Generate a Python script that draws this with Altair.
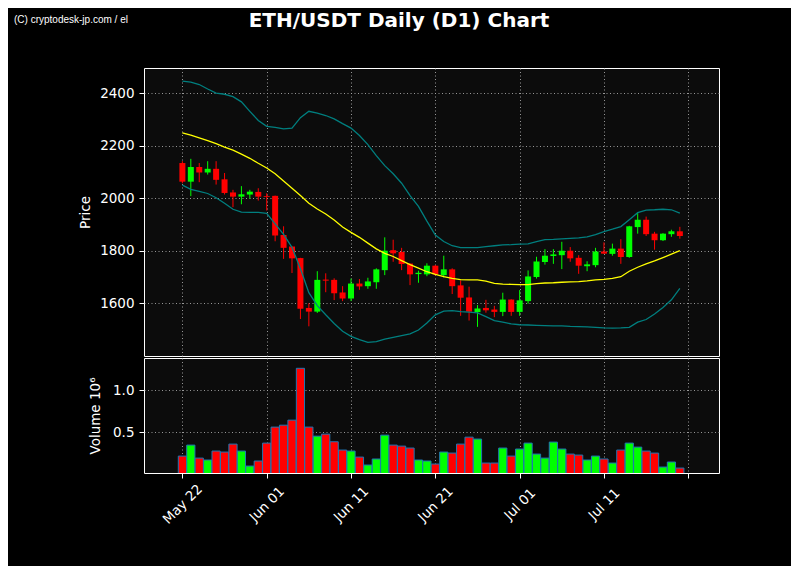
import altair as alt
import pandas as pd

# ---- data ----
start_date = "2023-05-22"
n_days = 60

opens = [2134, 2063, 2119, 2098, 2112, 2072, 2022, 2006, 2014, 2024,
         2008, 2009, 1860, 1816, 1772, 1582, 1568, 1690, 1689, 1641,
         1618, 1675, 1665, 1680, 1726, 1802, 1795, 1751, 1711, 1710,
         1743, 1707, 1729, 1668, 1622, 1566, 1582, 1576, 1567, 1614,
         1567, 1608, 1700, 1757, 1780, 1783, 1800, 1773, 1741, 1745,
         1797, 1788, 1808, 1776, 1890, 1918, 1865, 1840, 1863, 1874]
highs = [2141, 2150, 2134, 2141, 2141, 2096, 2032, 2046, 2032, 2038,
         2019, 2010, 1893, 1816, 1773, 1600, 1722, 1714, 1695, 1665,
         1694, 1692, 1697, 1733, 1851, 1842, 1811, 1752, 1724, 1752,
         1745, 1781, 1733, 1687, 1663, 1593, 1613, 1590, 1640, 1615,
         1650, 1725, 1777, 1806, 1806, 1834, 1814, 1783, 1760, 1811,
         1832, 1827, 1844, 1895, 1947, 1930, 1872, 1867, 1880, 1891]
lows = [2057, 2008, 2061, 2090, 2052, 2014, 1966, 1977, 1998, 1991,
        1953, 1836, 1769, 1715, 1540, 1512, 1563, 1642, 1612, 1608,
        1608, 1651, 1655, 1655, 1707, 1758, 1726, 1669, 1678, 1703,
        1705, 1698, 1635, 1552, 1534, 1510, 1564, 1547, 1551, 1552,
        1552, 1598, 1694, 1747, 1750, 1730, 1758, 1712, 1722, 1737,
        1788, 1781, 1750, 1773, 1865, 1856, 1804, 1837, 1853, 1846]
closes = [2063, 2119, 2098, 2112, 2070, 2020, 2006, 2015, 2025, 2006,
          2005, 1858, 1811, 1771, 1579, 1568, 1689, 1686, 1638, 1618,
          1675, 1664, 1683, 1729, 1800, 1790, 1749, 1710, 1716, 1743,
          1710, 1729, 1665, 1621, 1568, 1580, 1573, 1567, 1614, 1567,
          1611, 1702, 1759, 1781, 1786, 1800, 1771, 1743, 1748, 1797,
          1789, 1808, 1776, 1893, 1918, 1863, 1840, 1865, 1874, 1856]
volumes = [0.214, 0.345, 0.19, 0.167, 0.274, 0.262, 0.357, 0.274, 0.095, 0.155,
           0.369, 0.56, 0.583, 0.643, 1.262, 0.56, 0.452, 0.476, 0.385, 0.286,
           0.274, 0.202, 0.107, 0.179, 0.464, 0.345, 0.333, 0.31, 0.167, 0.155,
           0.119, 0.262, 0.25, 0.357, 0.44, 0.417, 0.131, 0.131, 0.31, 0.214,
           0.298, 0.369, 0.238, 0.19, 0.381, 0.298, 0.238, 0.226, 0.167, 0.214,
           0.179, 0.131, 0.286, 0.369, 0.321, 0.274, 0.25, 0.083, 0.143, 0.071]
upper_band = [2446, 2442, 2433, 2416, 2400, 2396, 2387, 2367, 2331, 2296,
              2274, 2270, 2264, 2267, 2307, 2331, 2324, 2315, 2302, 2284,
              2267, 2239, 2204, 2162, 2124, 2093, 2057, 2010, 1969, 1913,
              1860, 1835, 1819, 1812, 1812, 1812, 1816, 1819, 1822, 1823,
              1825, 1826, 1835, 1842, 1843, 1845, 1847, 1849, 1853, 1861,
              1873, 1882, 1892, 1918, 1945, 1955, 1956, 1958, 1956, 1943]
ma_line = [2249, 2240, 2230, 2219, 2208, 2195, 2183, 2168, 2152, 2133,
           2115, 2093, 2066, 2038, 2010, 1981, 1959, 1940, 1917, 1890,
           1870, 1851, 1829, 1807, 1790, 1778, 1762, 1747, 1734, 1720,
           1710, 1701, 1695, 1690, 1689, 1689, 1684, 1676, 1673, 1672,
           1671, 1671, 1675, 1677, 1678, 1680, 1681, 1682, 1685, 1689,
           1691, 1695, 1701, 1722, 1737, 1750, 1761, 1774, 1787, 1800]
lower_band = [2050, 2034, 2026, 2018, 2002, 1981, 1958, 1947, 1946, 1946,
              1942, 1902, 1862, 1813, 1731, 1640, 1591, 1556, 1523, 1493,
              1474, 1461, 1451, 1454, 1463, 1470, 1477, 1483, 1498, 1525,
              1556, 1570, 1572, 1568, 1566, 1563, 1549, 1534, 1528, 1521,
              1518, 1517, 1516, 1515, 1514, 1514, 1512, 1511, 1510, 1508,
              1506, 1505, 1506, 1508, 1528, 1538, 1559, 1584, 1613, 1657]

tick_dates = ["2023-05-22", "2023-06-01", "2023-06-11", "2023-06-21",
              "2023-07-01", "2023-07-11", "2023-07-21"]
price_ticks = [1600, 1800, 2000, 2200, 2400]
volume_ticks = [0.5, 1.0]
title_text = "ETH/USDT Daily (D1) Chart"
credit_text = "(C) cryptodesk-jp.com / el"

# ---- table ----
dates = pd.date_range(start_date, periods=n_days, freq="D").strftime("%Y-%m-%d")
df = pd.DataFrame({
    "date": dates, "open": opens, "high": highs, "low": lows, "close": closes,
    "volume": volumes, "upper": upper_band, "ma": ma_line, "lower": lower_band,
})

DAY = 86400000
base_ms = pd.Timestamp(start_date, tz="UTC").value // 10**6
x_domain = [base_ms - 3.96 * DAY, base_ms + 63.05 * DAY]
tick_ms = [pd.Timestamp(d, tz="UTC").value // 10**6 for d in tick_dates]

FONT = "DejaVu Sans"
x_scale = alt.Scale(type="utc", domain=x_domain)
up_color = alt.condition("datum.close >= datum.open", alt.value("#00ff00"), alt.value("#ff0000"))

x_top = alt.X("date:T", scale=x_scale,
              axis=alt.Axis(values=tick_ms, labels=False, ticks=False, domain=False,
                            title=None, orient="top"))
y_axis = alt.Axis(values=price_ticks, format="d", title="Price", titlePadding=7)
y_scale = alt.Scale(domain=[1399, 2496], zero=False, nice=False)

base = alt.Chart(df)
wicks = base.mark_rule(strokeWidth=1).encode(
    x=x_top,
    y=alt.Y("low:Q", scale=y_scale, axis=y_axis),
    y2="high:Q",
    color=up_color,
)
bodies = base.mark_bar(size=6).encode(
    x=x_top,
    y=alt.Y("open:Q", scale=y_scale, axis=y_axis),
    y2="close:Q",
    color=up_color,
)
upper_l = base.mark_line(color="#007f7f", strokeWidth=1.3).encode(
    x=x_top, y=alt.Y("upper:Q", scale=y_scale, axis=y_axis))
lower_l = base.mark_line(color="#007f7f", strokeWidth=1.3).encode(
    x=x_top, y=alt.Y("lower:Q", scale=y_scale, axis=y_axis))
ma_l = base.mark_line(color="#ffff00", strokeWidth=1.3).encode(
    x=x_top, y=alt.Y("ma:Q", scale=y_scale, axis=y_axis))

title_mark = alt.Chart(pd.DataFrame({"t": [title_text]})).mark_text(
    font=FONT, fontSize=20, fontWeight="bold", color="white", align="center", baseline="top"
).encode(text="t:N", x=alt.value(255), y=alt.value(-57))
credit_mark = alt.Chart(pd.DataFrame({"t": [credit_text]})).mark_text(
    font="Liberation Sans", fontSize=10, color="white", align="left", baseline="middle"
).encode(text="t:N", x=alt.value(-130), y=alt.value(-48))

price = alt.layer(wicks, bodies, upper_l, lower_l, ma_l, title_mark, credit_mark).properties(
    width=575, height=288)

volume = alt.Chart(df).mark_bar(size=8.2, stroke="#1f77b4", strokeWidth=1, clip=True).encode(
    x=alt.X("date:T", scale=x_scale,
            axis=alt.Axis(values=tick_ms, format="%b %d", labelAngle=315, labelAlign="center",
                          labelBaseline="middle", labelPadding=26, title=None,
                          labelExpr="datum.label == 'Jul 21' ? '' : datum.label")),
    y=alt.Y("volume:Q", scale=alt.Scale(domain=[0.012, 1.385], zero=False, nice=False),
            axis=alt.Axis(values=volume_ticks, format=".1f", title="Volume  10⁶", titlePadding=10)),
    color=up_color,
).properties(width=575, height=115)

chart = alt.vconcat(price, volume, spacing=0).properties(
    padding={"left": 5, "top": 2, "right": 71, "bottom": 39},
    background="black",
).configure_view(
    stroke="white", strokeWidth=1, fill="#0c0c0c"
).configure_axis(
    domain=False, tickColor="white", tickSize=5, tickWidth=1,
    labelColor="white", titleColor="white", labelFont=FONT, titleFont=FONT,
    labelFontSize=13.5, titleFontSize=13.5, titleFontWeight="normal", labelPadding=5,
    gridColor="#a8a8a8", gridDash=[1, 2.5], gridWidth=0.9,
)

chart.save("out.html", embed_options={"renderer": "svg", "actions": False})
